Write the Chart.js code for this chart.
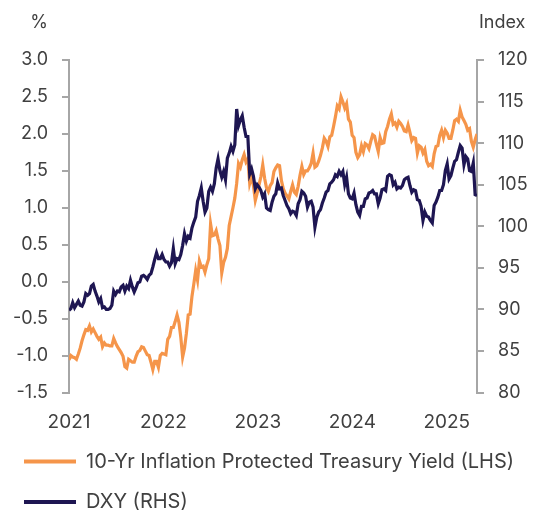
<!DOCTYPE html>
<html><head><meta charset="utf-8">
<script src="https://cdn.jsdelivr.net/npm/chart.js@4.4.1/dist/chart.umd.min.js"></script>
<style>html,body{margin:0;padding:0;overflow:hidden;background:#fff}canvas{display:block}</style>
</head><body>
<canvas id="c" width="533" height="522"></canvas>
<script>
// Year tick labels on the x axis
const yearLabels = ['2021', '2022', '2023', '2024', '2025'];

// Weekly 10-Yr TIPS real yield, % (Jan 2021 - mid Mar 2025)
const tipsYield = [
  // 2021
  -1.06,-1.00,-1.02,-1.03,-1.05, -0.98,-0.90,-0.80,-0.72, -0.65,-0.66,-0.60,-0.68,
  -0.64,-0.69,-0.74,-0.78,-0.75, -0.88,-0.83,-0.86,-0.86, -0.87,-0.87,-0.77,-0.83,
  -0.88,-0.92,-0.96,-1.01,-1.15, -1.17,-1.05,-1.07,-1.09, -1.09,-1.01,-0.95,-0.93,
  -0.88,-0.89,-0.94,-0.99,-1.00, -1.09,-1.19,-1.08,-1.08, -1.16,-1.00,-0.97,-0.98,-0.99,
  // 2022
  -0.78,-0.74,-0.62,-0.62, -0.54,-0.45,-0.55,-0.75, -1.02,-0.90,-0.70,-0.45,
  -0.44,-0.20,-0.03,0.15,0.02, 0.28,0.20,0.21,0.13, 0.23,0.31,0.78,0.62,
  0.63,0.69,0.58,0.49,0.12, 0.26,0.33,0.45,0.76, 0.88,1.00,1.13,1.33,1.60,
  1.55,1.65,1.72,1.62, 1.66,1.33,1.42,1.30, 1.10,1.20,1.31,1.42,1.58,
  // 2023
  1.40,1.27,1.22,1.30, 1.34,1.49,1.54,1.58, 1.57,1.37,1.26,1.20,1.16,
  1.12,1.22,1.31,1.21, 1.18,1.29,1.44,1.56, 1.45,1.50,1.50,1.54,1.60,
  1.74,1.55,1.57,1.63, 1.71,1.81,1.94,1.90, 1.83,1.96,1.98,2.10,2.23,
  2.38,2.34,2.50,2.43, 2.35,2.41,2.20,2.16, 1.98,1.95,1.75,1.68,1.72,
  // 2024
  1.84,1.76,1.87,1.85, 1.80,1.90,1.99,1.97, 1.86,1.76,1.95,1.87,1.88,
  2.03,2.10,2.20,2.27, 2.13,2.15,2.09,2.17,2.14, 2.10,2.04,2.03,2.12,
  2.02,1.91,1.95,1.94, 1.74,1.84,1.82,1.74,1.79, 1.63,1.57,1.59,1.56,
  1.73,1.83,1.84,1.98, 2.05,1.95,2.05,2.01,1.94, 1.94,2.05,2.18,2.20,
  // 2025
  2.17,2.32,2.23,2.18,2.13, 2.05,2.07,1.90,1.82, 1.92,2.00
];

// Weekly DXY dollar index (Jan 2021 - mid Mar 2025)
const dxyIndex = [
  // 2021
  89.9,90.1,90.8,90.2,90.6, 91.0,90.5,90.4,90.9, 91.9,91.7,91.9,92.8,
  93.0,92.2,91.6,90.9,91.3, 90.2,90.3,90.0,90.0, 90.1,90.5,92.2,91.8,
  92.2,92.1,92.7,92.9,92.2, 92.8,92.5,93.5,92.7, 92.1,92.6,93.2,93.3,
  94.0,94.1,93.9,93.6,94.1, 94.3,95.1,96.0,96.8, 96.1,96.1,96.6,96.0,95.7,
  // 2022
  95.7,95.2,95.6,97.3, 95.5,96.1,96.0,96.6, 97.7,99.1,98.2,98.8,
  98.6,99.8,100.5,101.1,103.0, 103.7,104.6,103.0,101.7, 102.2,104.2,104.7,104.2,
  105.1,107.0,108.1,106.7,105.9, 106.6,105.6,108.2,108.8, 109.6,109.0,109.8,114.1,112.1,
  112.8,113.3,111.9,110.8, 110.8,106.3,106.9,106.0, 104.5,105.0,104.7,104.3,103.5,
  // 2023
  103.9,102.2,102.0,101.9, 102.9,103.6,103.9,105.2, 104.5,104.6,103.7,103.1,102.5,
  102.1,101.5,101.8,101.7, 101.3,102.7,103.2,104.2, 104.0,103.6,102.3,102.9,103.0,
  102.3,99.9,101.1,101.7, 102.0,102.8,103.4,104.1, 104.3,105.1,105.3,105.6,106.2,
  106.0,106.6,106.2,106.6, 105.0,105.9,103.9,103.4, 103.3,104.0,102.6,101.7,101.3,
  // 2024
  102.4,102.4,103.3,103.4, 104.0,104.1,104.3,103.9, 103.9,102.7,103.4,104.4,104.5,
  104.3,106.0,106.2,106.1, 105.0,105.3,104.5,104.7,104.6, 104.9,105.6,105.8,105.9,
  104.9,104.1,104.4,104.3, 103.2,103.1,102.4,100.7,101.7, 101.2,101.1,100.7,100.4,
  102.5,102.9,103.5,104.3, 104.3,105.0,106.7,107.5,105.7, 106.1,107.0,107.8,108.0,
  // 2025
  108.9,109.7,109.4,107.4,108.4, 108.1,106.7,106.6,107.6, 103.8,103.7
];

const ORANGE = '#F5954A';
const NAVY = '#1E1652';
const TEXT = '#404040';
const AXIS = '#A6A6A6';
const TICK_FONT = { family: 'Inter', size: 18 };
const XTICK_FONT = { family: 'Inter', size: 19 };
const LEGEND_FONT = { family: 'Inter', size: 20 };
const LABEL_STEP = 50.7; // weeks between year labels

const ctx2d = document.getElementById('c').getContext('2d');
ctx2d.letterSpacing = '0.8px';

const axisTitles = {
  id: 'axisTitles',
  afterDraw(chart) {
    const { ctx, chartArea } = chart;
    ctx.save();
    ctx.font = '18px Inter';
    ctx.fillStyle = TEXT;
    ctx.textBaseline = 'middle';
    ctx.textAlign = 'center';
    ctx.fillText('%', chartArea.left - 30, 23);
    ctx.textAlign = 'left';
    ctx.fillText('Index', chartArea.right + 2, 23);
    ctx.restore();
  }
};

new Chart(ctx2d, {
  type: 'line',
  data: {
    datasets: [
      {
        label: '10-Yr Inflation Protected Treasury Yield (LHS)',
        data: tipsYield.map((v, i) => ({ x: i, y: v })),
        borderColor: ORANGE, backgroundColor: ORANGE,
        borderWidth: 3.2, pointRadius: 0, yAxisID: 'y', order: 2
      },
      {
        label: 'DXY (RHS)',
        data: dxyIndex.map((v, i) => ({ x: i, y: v })),
        borderColor: NAVY, backgroundColor: NAVY,
        borderWidth: 3.2, pointRadius: 0, yAxisID: 'y1', order: 1
      }
    ]
  },
  options: {
    responsive: false,
    animation: false,
    layout: { padding: { top: 60, left: 3.5, right: 0, bottom: 0 } },
    plugins: {
      legend: {
        position: 'bottom',
        align: 'start',
        labels: {
          boxWidth: 52, boxHeight: 4, padding: 20.5, color: TEXT, font: LEGEND_FONT,
          sort: (a, b) => a.datasetIndex - b.datasetIndex,
          generateLabels(chart) {
            const items = Chart.defaults.plugins.legend.labels.generateLabels(chart);
            items.forEach(it => { it.lineWidth = 0; });
            return items;
          }
        }
      },
      tooltip: { enabled: false }
    },
    scales: {
      x: {
        type: 'linear',
        min: 0,
        max: tipsYield.length - 1,
        grid: { display: false, drawTicks: false },
        border: { display: false },
        afterBuildTicks(axis) {
          axis.ticks = yearLabels.map((_, i) => ({ value: i * LABEL_STEP }));
        },
        ticks: {
          autoSkip: false, maxRotation: 0, padding: 18, color: TEXT, font: XTICK_FONT,
          callback: (v) => yearLabels[Math.round(v / LABEL_STEP)]
        },
        afterFit(s) { s.height = 38.5; }
      },
      y: {
        position: 'left',
        min: -1.5, max: 3.0,
        ticks: { stepSize: 0.5, padding: 14, color: TEXT, font: TICK_FONT, callback: v => v.toFixed(1) },
        grid: { drawOnChartArea: false, tickLength: 7, color: AXIS, lineWidth: 2 },
        border: { color: AXIS, width: 2 },
        afterFit(s) { s.width = 65.5; }
      },
      y1: {
        position: 'right',
        min: 80, max: 120,
        ticks: { stepSize: 5, padding: 14, color: TEXT, font: TICK_FONT },
        grid: { drawOnChartArea: false, tickLength: 7, color: AXIS, lineWidth: 2 },
        border: { color: AXIS, width: 2 },
        afterFit(s) { s.width = 56; }
      }
    }
  },
  plugins: [axisTitles]
});
</script>
</body></html>
